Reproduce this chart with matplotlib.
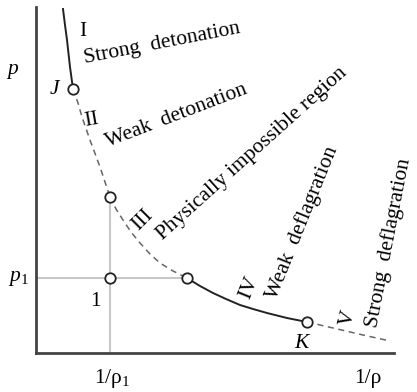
"""Hugoniot curve sketch: detonation and deflagration branches in the (1/rho, p) plane."""

import matplotlib

matplotlib.use("Agg")
import matplotlib.pyplot as plt

plt.rcParams["font.family"] = ["Liberation Serif", "DejaVu Serif"]
plt.rcParams["mathtext.fontset"] = "custom"
plt.rcParams["mathtext.rm"] = "Liberation Serif"
plt.rcParams["mathtext.it"] = "Liberation Serif:italic"

# curve points (specific volume, pressure), arbitrary units
strong_det_v = [0.27, 0.29, 0.31, 0.34, 0.37]
strong_det_p = [3.44, 3.28, 3.13, 2.86, 2.64]
weak_det_v = [0.37, 0.42, 0.46, 0.54, 0.64, 0.74]
weak_det_p = [2.64, 2.50, 2.36, 2.13, 1.86, 1.56]
impossible_v = [0.74, 0.80, 0.87, 0.95, 1.04, 1.14, 1.24, 1.37, 1.51]
impossible_p = [1.56, 1.44, 1.33, 1.21, 1.10, 0.99, 0.90, 0.82, 0.75]
weak_def_v = [1.51, 1.64, 1.77, 1.90, 2.04, 2.17, 2.31, 2.51, 2.71]
weak_def_p = [0.75, 0.67, 0.60, 0.54, 0.48, 0.44, 0.40, 0.35, 0.31]
strong_def_v = [2.71, 2.97, 3.27, 3.54]
strong_def_p = [0.31, 0.25, 0.18, 0.12]

# initial state 1 and the marked points J, A, B, K
v1 = 0.74
p1 = 0.75
marker_v = [0.37, 0.74, 0.74, 1.51, 2.71]
marker_p = [2.64, 1.56, 0.75, 0.75, 0.31]

# region labels: (numeral, numeral position, angle, name, name position, angle)
regions = [
    ("I", (0.47, 3.21), 0, "Strong  detonation", (0.49, 2.90), 11),
    ("II", (0.56, 2.33), 10, "Weak  detonation", (0.72, 2.06), 21),
    ("III", (1.07, 1.33), 45, "Physically impossible region", (1.27, 1.13), 42),
    ("IV", (2.13, 0.65), 68, "Weak  deflagration", (2.40, 0.53), 68),
    ("V", (3.12, 0.35), 76, "Strong  deflagration", (3.41, 0.25), 79),
]


def main() -> int:
    fig = plt.figure(figsize=(4.17, 3.92), dpi=100)
    ax = fig.add_axes([36 / 417, 39 / 392, 358 / 417, 346 / 392])
    ax.set_xlim(0, 3.58)
    ax.set_ylim(0, 3.46)

    for side in ("top", "right"):
        ax.spines[side].set_visible(False)
    for side in ("left", "bottom"):
        ax.spines[side].set_color("#444444")
        ax.spines[side].set_linewidth(2.0)
    ax.set_xticks([])
    ax.set_yticks([])

    grey = "#c8c8c8"
    ax.plot([v1, v1], [0, 1.56], color=grey, lw=1.5, zorder=1)
    ax.plot([0, 1.51], [p1, p1], color=grey, lw=1.5, zorder=1)

    solid = dict(color="#222222", lw=1.4, zorder=2)
    dashed = dict(color="#666666", lw=1.1, ls=(0, (4, 3)), zorder=2)
    ax.plot(strong_det_v, strong_det_p, **solid)
    ax.plot(weak_det_v, weak_det_p, **dashed)
    ax.plot(impossible_v, impossible_p, **dashed)
    ax.plot(weak_def_v, weak_def_p, **solid)
    ax.plot(strong_def_v, strong_def_p, **dashed)

    ax.plot(marker_v, marker_p, ls="none", marker="o", ms=7.5, mfc="white",
            mec="#222222", mew=1.3, zorder=3)

    fs = 15.5
    for numeral, npos, nrot, name, pos, rot in regions:
        ax.text(*npos, numeral, fontsize=fs, rotation=nrot, ha="center",
                va="center", rotation_mode="anchor", clip_on=False)
        ax.text(*pos, name, fontsize=fs, rotation=rot, ha="left",
                va="baseline", rotation_mode="anchor", clip_on=False)

    ax.text(0.59, 0.51, "1", fontsize=fs, ha="center", va="center")
    ax.text(0.19, 2.63, "$J$", fontsize=fs, ha="center", va="center")
    ax.text(2.67, 0.10, "$K$", fontsize=fs, ha="center", va="center")
    ax.text(-0.23, 2.81, "$p$", fontsize=fs, ha="center", va="center", clip_on=False)
    ax.text(-0.18, 0.75, "$p_1$", fontsize=fs, ha="center", va="center", clip_on=False)
    ax.text(0.76, -0.25, "1/ρ$_1$", fontsize=fs, ha="center", va="center", clip_on=False)
    ax.text(3.32, -0.25, "1/ρ", fontsize=fs, ha="center", va="center", clip_on=False)

    fig.savefig("out.png", dpi=100)
    plt.close(fig)
    return 0


if __name__ == "__main__":
    main()
